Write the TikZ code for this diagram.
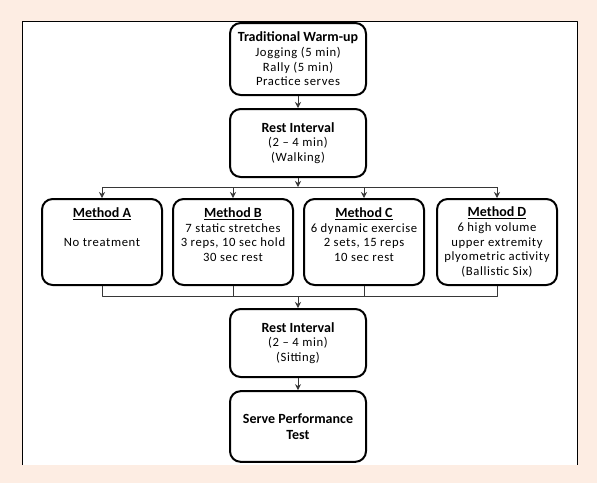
\documentclass[tikz,border=0pt]{standalone}
\usepackage{fontspec}
\setmainfont{Carlito}
\newfontfamily\bodyfont[LetterSpace=5]{Carlito}
\usetikzlibrary{arrows.meta}
\definecolor{peach}{RGB}{253,237,227}
\definecolor{linegray}{RGB}{55,55,55}
\newcommand{\boxtitle}[1]{{\fontsize{10.5}{12}\selectfont\rmfamily\bfseries #1}}
\newcommand{\methodtitle}[1]{\boxtitle{\underline{#1}}}
\begin{document}
\begin{tikzpicture}[x=0.75pt,y=-0.75pt,>={Stealth[length=4.5pt,width=4.5pt]},line join=round,
		font=\bodyfont\fontsize{9.5}{11}\selectfont,
		box/.style={draw,line width=1.5pt,rounded corners=8pt,align=center,inner sep=0pt},
		mainbox/.style={box,minimum width=102pt,minimum height=51pt},
		methodbox/.style={box,minimum width=90pt,minimum height=64.5pt},
		link/.style={draw=linegray,line width=0.6pt}]
			\def\ysplit{187}
			\def\ymerge{296}
			\def\ymethod{242}
			% page and panel
			\fill [peach] (0,0) rectangle (597,483);
			\fill [white] (22,21) rectangle (577,465);
			\draw [line width=0.6pt] (22,465)--(22,21)--(577,21)--(577,465);
			% main column
			\node [mainbox,minimum height=54pt] (warm) at (298,59) {\boxtitle{Traditional Warm-up}\\Jogging (5 min)\\Rally (5 min)\\Practice serves};
			\node [mainbox] (rest1) at (298,143) {\boxtitle{Rest Interval}\\(2 – 4 min)\\(Walking)};
			\coordinate (split) at (298,\ysplit);
			% methods
			\node [methodbox] (ma) at (102,\ymethod) {\methodtitle{Method A}\\ \\No treatment\\ \\ };
			\node [methodbox] (mb) at (233,\ymethod) {\methodtitle{Method B}\\7 static stretches\\3 reps, 10 sec hold\\30 sec rest\\ };
			\node [methodbox] (mc) at (364,\ymethod) {\methodtitle{Method C}\\6 dynamic exercise\\2 sets, 15 reps\\10 sec rest\\ };
			\node [methodbox] (md) at (497,\ymethod) {\methodtitle{Method D}\\6 high volume\\upper extremity\\plyometric activity\\(Ballistic Six)};
			\coordinate (merge) at (298,\ymerge);
			\node [mainbox] (rest2) at (298,343) {\boxtitle{Rest Interval}\\(2 – 4 min)\\(Sitting)};
			\node [mainbox,minimum height=53pt] (serve) at (298,426.5) {\boxtitle{Serve Performance}\\[1pt]\boxtitle{Test}};
			% connectors
			\draw [link,->] (warm)--(rest1);
			\draw [link,->] (rest1)--(split);
			\draw [link] (ma.north |- split)--(md.north |- split);
			\foreach \m in {ma,mb,mc,md}
				\draw [link,->] (\m.north |- split)--(\m);
			\draw [link] (ma)--(ma |- merge)--(md |- merge)--(md);
			\draw [link] (mb)--(mb |- merge) (mc)--(mc |- merge);
			\draw [link,->] (merge)--(rest2);
			\draw [link,->] (rest2)--(serve);
		\end{tikzpicture}
\end{document}
